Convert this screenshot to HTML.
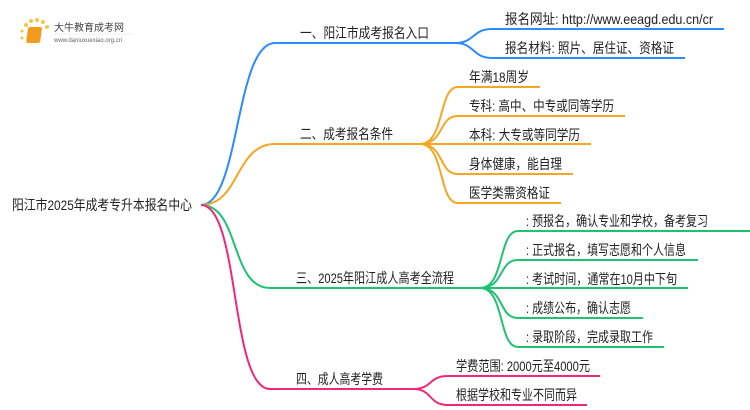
<!DOCTYPE html>
<html><head><meta charset="utf-8"><style>
html,body{margin:0;padding:0;background:#fff;}
svg{display:block;}
text{font-family:"Liberation Sans","Noto Sans CJK SC",sans-serif;font-size:14px;fill:#222;}
</style></head><body>
<svg width="750" height="410" viewBox="0 0 750 410" xmlns="http://www.w3.org/2000/svg">
<g fill="none" stroke-width="2">
<path d="M201,205 C240,205 235,43 275,43 L460,43" stroke="#2a8cff"/>
<path d="M455,43 C475,43 472,29 492,29 L724,29" stroke="#2a8cff"/>
<path d="M455,43 C475,43 472,58 492,58 L685,58" stroke="#2a8cff"/>
<path d="M201,205 C240,205 235,144 275,144 L425,144" stroke="#f5a623"/>
<path d="M420,144 C445,144 438,87 458,87 L540,87" stroke="#f5a623"/>
<path d="M420,144 C445,144 438,116 458,116 L625,116" stroke="#f5a623"/>
<path d="M420,144 L591,144" stroke="#f5a623"/>
<path d="M420,144 C445,144 438,174 458,174 L573,174" stroke="#f5a623"/>
<path d="M420,144 C445,144 438,203 458,203 L561,203" stroke="#f5a623"/>
<path d="M201,205 C240,205 230,288 270,288 L485,288" stroke="#1ec271"/>
<path d="M480,288 C505,288 498,231 518,231 L750,231" stroke="#1ec271"/>
<path d="M480,288 C505,288 498,260 518,260 L698,260" stroke="#1ec271"/>
<path d="M480,288 L688,288" stroke="#1ec271"/>
<path d="M480,288 C505,288 498,318 518,318 L643,318" stroke="#1ec271"/>
<path d="M480,288 C505,288 498,347 518,347 L664,347" stroke="#1ec271"/>
<path d="M201,205 C240,205 230,389 270,389 L418,389" stroke="#f0287a"/>
<path d="M413,389 C433,389 428,376 448,376 L600,376" stroke="#f0287a"/>
<path d="M413,389 C433,389 428,405 448,405 L587,405" stroke="#f0287a"/>
</g>
<g>
<circle cx="26" cy="25" r="2" fill="#f7c744"/><circle cx="31" cy="21" r="2" fill="#f7c744"/><circle cx="37" cy="20" r="2" fill="#f7c744"/><circle cx="43" cy="22" r="2" fill="#f7c744"/><circle cx="47" cy="27" r="2" fill="#f7c744"/><circle cx="22" cy="31" r="1.5" fill="#f7c744"/><circle cx="22" cy="38" r="1.5" fill="#f7c744"/>
<rect x="32" y="27" width="14" height="16" rx="2" fill="#f29b1d" transform="skewX(-8)"/>
<text x="54" y="31" style="font-size:10px;fill:#444">大牛教育成考网</text>
<text x="54" y="42" style="font-size:6px;fill:#666">www.daniuxuexiao.org.cn</text>
<line x1="54" y1="34" x2="132" y2="34" stroke="#ddd" stroke-width="0.6"/>
</g>
<g lengthAdjust="spacingAndGlyphs">
<text x="12" y="210" textLength="180" lengthAdjust="spacingAndGlyphs">阳江市2025年成考专升本报名中心</text>
<text x="300" y="38" textLength="129" lengthAdjust="spacingAndGlyphs">一、阳江市成考报名入口</text>
<text x="505" y="24" textLength="208" lengthAdjust="spacingAndGlyphs">报名网址: http://www.eeagd.edu.cn/cr</text>
<text x="505" y="53" textLength="169" lengthAdjust="spacingAndGlyphs">报名材料: 照片、居住证、资格证</text>
<text x="300" y="139" textLength="93" lengthAdjust="spacingAndGlyphs">二、成考报名条件</text>
<text x="469" y="82" textLength="60" lengthAdjust="spacingAndGlyphs">年满18周岁</text>
<text x="469" y="111" textLength="145" lengthAdjust="spacingAndGlyphs">专科: 高中、中专或同等学历</text>
<text x="469" y="140" textLength="111" lengthAdjust="spacingAndGlyphs">本科: 大专或等同学历</text>
<text x="469" y="169" textLength="93" lengthAdjust="spacingAndGlyphs">身体健康，能自理</text>
<text x="469" y="198" textLength="81" lengthAdjust="spacingAndGlyphs">医学类需资格证</text>
<text x="296" y="283" textLength="158" lengthAdjust="spacingAndGlyphs">三、2025年阳江成人高考全流程</text>
<text x="526" y="226" textLength="182" lengthAdjust="spacingAndGlyphs">: 预报名，确认专业和学校，备考复习</text>
<text x="526" y="255" textLength="160" lengthAdjust="spacingAndGlyphs">: 正式报名，填写志愿和个人信息</text>
<text x="526" y="284" textLength="151" lengthAdjust="spacingAndGlyphs">: 考试时间，通常在10月中下旬</text>
<text x="526" y="313" textLength="105" lengthAdjust="spacingAndGlyphs">: 成绩公布，确认志愿</text>
<text x="526" y="342" textLength="127" lengthAdjust="spacingAndGlyphs">: 录取阶段，完成录取工作</text>
<text x="296" y="384" textLength="87" lengthAdjust="spacingAndGlyphs">四、成人高考学费</text>
<text x="456" y="371" textLength="134" lengthAdjust="spacingAndGlyphs">学费范围: 2000元至4000元</text>
<text x="456" y="400" textLength="121" lengthAdjust="spacingAndGlyphs">根据学校和专业不同而异</text>
</g>
</svg>
</body></html>
